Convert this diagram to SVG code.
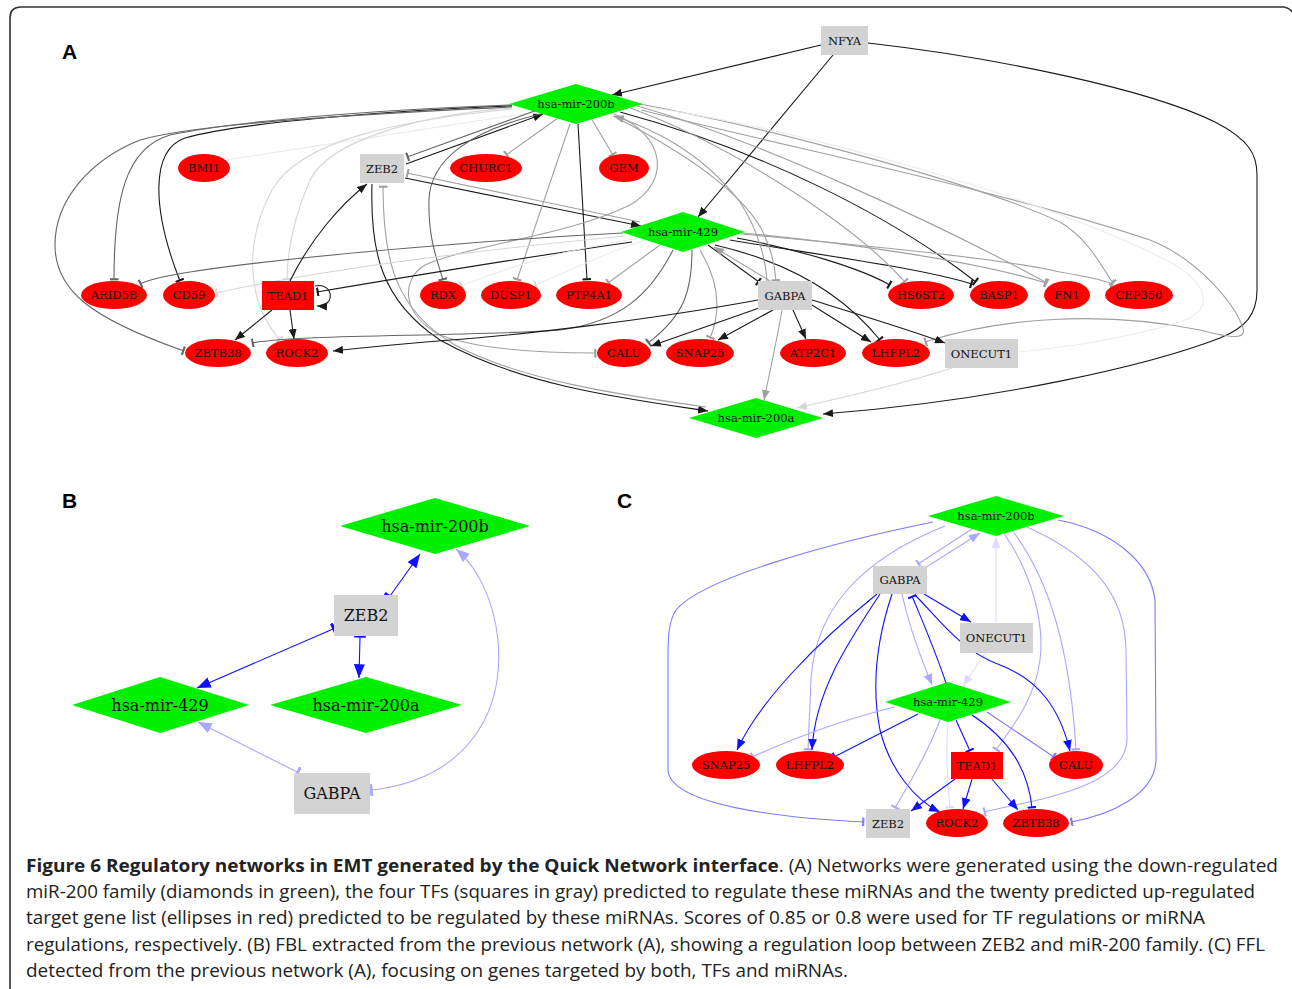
<svg xmlns="http://www.w3.org/2000/svg" width="1292" height="989" viewBox="0 0 1292 989">
<style>
.bg{fill:#fff}
.frame{fill:none;stroke:#333;stroke-width:1.6}
.lab{font-family:"Liberation Sans",Arial,sans-serif;font-weight:bold;font-size:21px;fill:#000}
.nr{fill:#ff0000}
.ng{fill:#00f000}
.nb{fill:#d3d3d3}
.t{font-family:"DejaVu Serif","Liberation Serif",serif;font-size:11.5px;fill:#111;text-anchor:middle;dominant-baseline:central}
.tb{font-family:"DejaVu Serif","Liberation Serif",serif;font-size:16px;fill:#111;text-anchor:middle;dominant-baseline:central}
.e{fill:none;stroke-width:1.1}
.k{stroke:#1a1a1a}
.d{stroke:#666}
.g{stroke:#a0a0a0}
.l{stroke:#d6d6d6}
.v{stroke:#ececec}
.B{stroke:#1010ff}
.LB{stroke:#a8a8ff}
.VB{stroke:#dcdcff}
.MB{stroke:#7a7aff}
.cap{font-family:"Open Sans","Noto Sans","Liberation Sans",sans-serif;font-size:18.5px;fill:#222}
</style>
<defs>
<marker id="aK" viewBox="0 0 10 8" refX="10" refY="4" markerWidth="10" markerHeight="8" orient="auto" markerUnits="userSpaceOnUse"><path d="M0,0 L10,4 L0,8z" fill="#1a1a1a"/></marker>
<marker id="aG" viewBox="0 0 10 8" refX="10" refY="4" markerWidth="10" markerHeight="8" orient="auto" markerUnits="userSpaceOnUse"><path d="M0,0 L10,4 L0,8z" fill="#a0a0a0"/></marker>
<marker id="aL" viewBox="0 0 10 8" refX="10" refY="4" markerWidth="10" markerHeight="8" orient="auto" markerUnits="userSpaceOnUse"><path d="M0,0 L10,4 L0,8z" fill="#d6d6d6"/></marker>
<marker id="tK" viewBox="0 0 3 10" refX="2" refY="5" markerWidth="3" markerHeight="9" orient="auto" markerUnits="userSpaceOnUse"><rect width="2.4" height="10" fill="#1a1a1a"/></marker>
<marker id="tD" viewBox="0 0 3 10" refX="2" refY="5" markerWidth="3" markerHeight="9" orient="auto" markerUnits="userSpaceOnUse"><rect width="2.4" height="10" fill="#666"/></marker>
<marker id="tG" viewBox="0 0 3 10" refX="2" refY="5" markerWidth="3" markerHeight="9" orient="auto" markerUnits="userSpaceOnUse"><rect width="2.4" height="10" fill="#a0a0a0"/></marker>
<marker id="tL" viewBox="0 0 3 10" refX="2" refY="5" markerWidth="3" markerHeight="9" orient="auto" markerUnits="userSpaceOnUse"><rect width="2.4" height="10" fill="#d6d6d6"/></marker>
<marker id="aB" viewBox="0 0 10 8" refX="10" refY="4" markerWidth="11" markerHeight="9" orient="auto" markerUnits="userSpaceOnUse"><path d="M0,0 L10,4 L0,8z" fill="#1010ff"/></marker>
<marker id="aLB" viewBox="0 0 10 8" refX="10" refY="4" markerWidth="11" markerHeight="9" orient="auto" markerUnits="userSpaceOnUse"><path d="M0,0 L10,4 L0,8z" fill="#a8a8ff"/></marker>
<marker id="aVB" viewBox="0 0 10 8" refX="10" refY="4" markerWidth="11" markerHeight="9" orient="auto" markerUnits="userSpaceOnUse"><path d="M0,0 L10,4 L0,8z" fill="#dcdcff"/></marker>
<marker id="tB" viewBox="0 0 3 10" refX="2" refY="5" markerWidth="3" markerHeight="9" orient="auto" markerUnits="userSpaceOnUse"><rect width="2.4" height="10" fill="#1010ff"/></marker>
<marker id="tLB" viewBox="0 0 3 10" refX="2" refY="5" markerWidth="3" markerHeight="9" orient="auto" markerUnits="userSpaceOnUse"><rect width="2.4" height="10" fill="#a8a8ff"/></marker>
<marker id="tMB" viewBox="0 0 3 10" refX="2" refY="5" markerWidth="3" markerHeight="9" orient="auto" markerUnits="userSpaceOnUse"><rect width="2.4" height="10" fill="#7a7aff"/></marker>
<marker id="tVB" viewBox="0 0 3 10" refX="2" refY="5" markerWidth="3" markerHeight="9" orient="auto" markerUnits="userSpaceOnUse"><rect width="2.4" height="10" fill="#dcdcff"/></marker>
<marker id="aB2" viewBox="0 0 10 8" refX="10" refY="4" markerWidth="14" markerHeight="11" orient="auto" markerUnits="userSpaceOnUse"><path d="M0,0 L10,4 L0,8z" fill="#1010ff"/></marker>
<marker id="aLB2" viewBox="0 0 10 8" refX="10" refY="4" markerWidth="14" markerHeight="11" orient="auto" markerUnits="userSpaceOnUse"><path d="M0,0 L10,4 L0,8z" fill="#a8a8ff"/></marker>
<marker id="tB2" viewBox="0 0 3 10" refX="2" refY="5" markerWidth="3.5" markerHeight="12" orient="auto" markerUnits="userSpaceOnUse"><rect width="2.6" height="10" fill="#1010ff"/></marker>
<marker id="tLB2" viewBox="0 0 3 10" refX="2" refY="5" markerWidth="3.5" markerHeight="12" orient="auto" markerUnits="userSpaceOnUse"><rect width="2.6" height="10" fill="#a8a8ff"/></marker>
</defs>
<rect class="bg" x="0" y="0" width="1292" height="989"/>
<path class="frame" d="M10,989 L10,18 Q10,7 21,7 L1284,7 Q1290,8 1293,13"/>
<text class="lab" x="62" y="59">A</text>
<text class="lab" x="62" y="508">B</text>
<text class="lab" x="617" y="508">C</text>

<g id="edgesA">
<path class="e k" d="M821,45 L612,95" marker-end="url(#aK)"/>
<path class="e k" d="M833,55 L698,217" marker-end="url(#aK)"/>
<path class="e k" d="M868,43 C1000,58 1150,90 1215,122 C1250,140 1257,155 1257,175 L1257,290 C1257,315 1245,328 1220,338 C1150,365 1000,400 823,414" marker-end="url(#aK)"/>
<path class="e v" d="M535,112 L226,160"/>
<path class="e d" d="M512,105 C420,108 250,118 170,135 C125,148 114,200 114,280" marker-end="url(#tD)"/>
<path class="e k" d="M512,106 C400,110 240,122 185,138 C150,150 152,210 180,281" marker-end="url(#tK)"/>
<path class="e d" d="M512,107 C400,112 200,122 140,140 C90,160 55,200 55,245 C55,290 90,318 184,351" marker-end="url(#tD)"/>
<path class="e k" d="M406,164 L543,114" marker-end="url(#aK)"/>
<path class="e d" d="M540,109 L407,157" marker-end="url(#tD)"/>
<path class="e k" d="M405,178 L641,226" marker-end="url(#aK)"/>
<path class="e g" d="M640,222 L407,173" marker-end="url(#tG)"/>
<path class="e k" d="M372,184 C370,250 380,300 440,340 C520,385 620,398 708,411" marker-end="url(#aK)"/>
<path class="e g" d="M706,407 C620,395 520,380 455,345 C395,310 383,260 383,186" marker-end="url(#tG)"/>
<path class="e d" d="M545,113 C470,130 430,160 429,200 C428,240 438,262 443,280" marker-end="url(#tD)"/>
<path class="e g" d="M558,118 L506,155" marker-end="url(#tG)"/>
<path class="e g" d="M591,118 L613,155" marker-end="url(#tG)"/>
<path class="e g" d="M570,124 L517,280" marker-end="url(#tG)"/>
<path class="e k" d="M578,124 L587,280" marker-end="url(#tK)"/>
<path class="e l" d="M512,108 C420,115 330,140 310,180 C295,215 287,250 287,280" marker-end="url(#tL)"/>
<path class="e l" d="M512,109 C400,120 300,140 272,190 C245,240 245,300 280,340" marker-end="url(#tL)"/>
<path class="e g" d="M614,114 C665,135 672,180 630,205 C570,235 470,245 425,265 C400,280 402,315 440,335 C480,350 550,353 596,353" marker-end="url(#tG)"/>
<path class="e k" d="M620,112 C760,150 890,215 976,282" marker-end="url(#tK)"/>
<path class="e k" d="M730,240 C820,255 920,268 972,284" marker-end="url(#tK)"/>
<path class="e g" d="M630,108 C720,140 850,220 905,282" marker-end="url(#tG)"/>
<path class="e g" d="M637,106 C760,140 950,230 1047,283" marker-end="url(#tG)"/>
<path class="e g" d="M640,104 C780,130 980,185 1060,222 C1090,240 1102,268 1113,283" marker-end="url(#tG)"/>
<path class="e g" d="M741,234 C850,244 1000,258 1060,272 C1090,277 1103,280 1113,284" marker-end="url(#tG)"/>
<path class="e g" d="M743,233 C850,243 980,262 1046,283" marker-end="url(#tG)"/>
<path class="e k" d="M737,238 C800,250 860,268 890,285" marker-end="url(#tK)"/>
<path class="e k" d="M715,245 C780,260 840,290 880,340" marker-end="url(#tK)"/>
<path class="e g" d="M641,110 C800,150 1000,190 1150,240 C1200,260 1235,305 1243,328 C1247,340 1230,338 1200,330 C1100,310 1000,318 925,342" marker-end="url(#tG)"/>
<path class="e v" d="M640,106 C800,128 1050,200 1170,262 C1210,285 1215,310 1180,322 C1120,340 1060,348 1019,352"/>
<path class="e k" d="M708,245 L759,282" marker-end="url(#tK)"/>
<path class="e g" d="M770,281 L714,247" marker-end="url(#aG)"/>
<path class="e g" d="M613,116 C680,150 740,190 762,230 C772,250 775,265 776,281" marker-end="url(#tG)"/>
<path class="e g" d="M767,281 C766,260 758,230 740,202 C700,150 650,128 614,116" marker-end="url(#aG)"/>
<path class="e d" d="M623,233 C520,238 300,255 190,272 C165,276 150,279 140,284" marker-end="url(#tD)"/>
<path class="e l" d="M625,236 C480,250 320,270 216,293" marker-end="url(#tL)"/>
<path class="e k" d="M632,242 C520,258 400,278 317,292" marker-end="url(#tK)"/>
<path class="e v" d="M640,238 C560,250 500,270 461,286" marker-end="url(#tL)"/>
<path class="e v" d="M645,240 C600,255 560,275 535,285" marker-end="url(#tL)"/>
<path class="e g" d="M660,245 L608,283" marker-end="url(#tG)"/>
<path class="e d" d="M673,250 C650,295 620,322 560,330 C460,337 300,334 252,343" marker-end="url(#tD)"/>
<path class="e d" d="M692,250 C692,290 685,315 648,343" marker-end="url(#tD)"/>
<path class="e g" d="M700,250 C718,280 722,310 710,338" marker-end="url(#tG)"/>
<path class="e k" d="M758,300 C650,320 520,335 450,340 C400,344 360,348 333,351" marker-end="url(#aK)"/>
<path class="e k" d="M762,307 L651,346" marker-end="url(#aK)"/>
<path class="e k" d="M773,310 L718,340" marker-end="url(#aK)"/>
<path class="e k" d="M793,310 L806,339" marker-end="url(#aK)"/>
<path class="e k" d="M812,305 L871,342" marker-end="url(#aK)"/>
<path class="e k" d="M812,300 C860,315 910,330 945,343" marker-end="url(#aK)"/>
<path class="e g" d="M782,310 C775,350 768,380 764,400" marker-end="url(#aG)"/>
<path class="e l" d="M952,368 C900,385 840,398 797,408" marker-end="url(#aL)"/>
<path class="e k" d="M290,281 C310,240 340,205 367,184" marker-end="url(#aK)"/>
<path class="e k" d="M315,286 C334,282 336,307 317,306" marker-end="url(#aK)"/>
<path class="e k" d="M272,310 L235,340" marker-end="url(#aK)"/>
<path class="e k" d="M290,310 L294,339" marker-end="url(#aK)"/>
</g>

<g id="A-NFYA"><rect class="nb" x="821" y="26" width="47" height="29"/><text class="t" x="844.5" y="40.5">NFYA</text></g>
<g id="A-mir200b"><polygon class="ng" points="509,104 576,84 643,104 576,124"/><text class="t" x="576" y="104">hsa-mir-200b</text></g>
<g id="A-ZEB2"><rect class="nb" x="360" y="154" width="44" height="29"/><text class="t" x="382" y="168.5">ZEB2</text></g>
<g id="A-BMI1"><ellipse class="nr" cx="204" cy="168" rx="26" ry="14"/><text class="t" x="204" y="168">BMI1</text></g>
<g id="A-CHURC1"><ellipse class="nr" cx="486" cy="168" rx="36" ry="14"/><text class="t" x="486" y="168">CHURC1</text></g>
<g id="A-GEM"><ellipse class="nr" cx="624" cy="168" rx="25" ry="14"/><text class="t" x="624" y="168">GEM</text></g>
<g id="A-mir429"><polygon class="ng" points="621,232 683,212 745,232 683,252"/><text class="t" x="683" y="232">hsa-mir-429</text></g>
<g id="A-ARID5B"><ellipse class="nr" cx="114" cy="295" rx="33" ry="14"/><text class="t" x="114" y="295">ARID5B</text></g>
<g id="A-CD59"><ellipse class="nr" cx="189" cy="295" rx="26" ry="14"/><text class="t" x="189" y="295">CD59</text></g>
<g id="A-TEAD1"><rect class="nr" x="262" y="281" width="52" height="29"/><text class="t" x="288" y="295.5">TEAD1</text></g>
<g id="A-RDX"><ellipse class="nr" cx="443" cy="295" rx="23" ry="14"/><text class="t" x="443" y="295">RDX</text></g>
<g id="A-DUSP1"><ellipse class="nr" cx="511" cy="295" rx="30" ry="14"/><text class="t" x="511" y="295">DUSP1</text></g>
<g id="A-PTP4A1"><ellipse class="nr" cx="589" cy="295" rx="33" ry="14"/><text class="t" x="589" y="295">PTP4A1</text></g>
<g id="A-GABPA"><rect class="nb" x="758" y="281" width="54" height="29"/><text class="t" x="785" y="295.5">GABPA</text></g>
<g id="A-HS6ST2"><ellipse class="nr" cx="921" cy="295" rx="33" ry="14"/><text class="t" x="921" y="295">HS6ST2</text></g>
<g id="A-BASP1"><ellipse class="nr" cx="999" cy="295" rx="29" ry="14"/><text class="t" x="999" y="295">BASP1</text></g>
<g id="A-FN1"><ellipse class="nr" cx="1067" cy="295" rx="23" ry="14"/><text class="t" x="1067" y="295">FN1</text></g>
<g id="A-CEP350"><ellipse class="nr" cx="1139" cy="295" rx="34" ry="14"/><text class="t" x="1139" y="295">CEP350</text></g>
<g id="A-ZBTB38"><ellipse class="nr" cx="218" cy="353" rx="33" ry="14"/><text class="t" x="218" y="353">ZBTB38</text></g>
<g id="A-ROCK2"><ellipse class="nr" cx="297" cy="353" rx="31" ry="14"/><text class="t" x="297" y="353">ROCK2</text></g>
<g id="A-CALU"><ellipse class="nr" cx="624" cy="353" rx="27" ry="14"/><text class="t" x="624" y="353">CALU</text></g>
<g id="A-SNAP25"><ellipse class="nr" cx="700" cy="353" rx="34" ry="14"/><text class="t" x="700" y="353">SNAP25</text></g>
<g id="A-ATP2C1"><ellipse class="nr" cx="813" cy="353" rx="33" ry="14"/><text class="t" x="813" y="353">ATP2C1</text></g>
<g id="A-LHFPL2"><ellipse class="nr" cx="896" cy="353" rx="34" ry="14"/><text class="t" x="896" y="353">LHFPL2</text></g>
<g id="A-ONECUT1"><rect class="nb" x="945" y="339" width="73" height="29"/><text class="t" x="981.5" y="353.5">ONECUT1</text></g>
<g id="A-mir200a"><polygon class="ng" points="689,418 756,398 823,418 756,438"/><text class="t" x="756" y="418">hsa-mir-200a</text></g>

<g id="edgesB">
<path class="e B" stroke-width="1.6" d="M390,596 L420,554" marker-start="url(#tB2)" marker-end="url(#aB2)"/>
<path class="e B" stroke-width="1.6" d="M333,629 L197,688" marker-start="url(#tB2)" marker-end="url(#aB2)"/>
<path class="e B" stroke-width="1.6" d="M360,637 L359,678" marker-start="url(#tB2)" marker-end="url(#aB2)"/>
<path class="e LB" stroke-width="1.6" d="M297,772 L198,722" marker-start="url(#tLB2)" marker-end="url(#aLB2)"/>
<path class="e LB" stroke-width="1.6" d="M372,790 C460,780 505,720 498,640 C493,595 475,565 456,549" marker-start="url(#tLB2)" marker-end="url(#aLB2)"/>
</g>
<g id="B-mir200b"><polygon class="ng" points="340,526 435,498 530,526 435,554"/><text class="tb" x="435" y="526">hsa-mir-200b</text></g>
<g id="B-ZEB2"><rect class="nb" x="334" y="595" width="64" height="41"/><text class="tb" x="366" y="615">ZEB2</text></g>
<g id="B-mir429"><polygon class="ng" points="72,705 160,677 249,705 160,733"/><text class="tb" x="160" y="705">hsa-mir-429</text></g>
<g id="B-mir200a"><polygon class="ng" points="270,705 366,677 462,705 366,733"/><text class="tb" x="366" y="705">hsa-mir-200a</text></g>
<g id="B-GABPA"><rect class="nb" x="294" y="773" width="76" height="41"/><text class="tb" x="332" y="793">GABPA</text></g>

<g id="edgesC">
<path class="e MB" d="M933,522 C820,545 700,580 676,610 C668,622 668,640 668,660 L668,770 C670,805 780,818 864,822" marker-end="url(#tMB)"/>
<path class="e MB" d="M1058,520 C1110,530 1150,560 1155,600 L1156,760 C1155,795 1110,815 1071,822" marker-end="url(#tMB)"/>
<path class="e LB" d="M925,568 L980,533" marker-end="url(#aLB)"/>
<path class="e LB" d="M972,529 L918,564" marker-end="url(#tLB)"/>
<path class="e LB" d="M945,526 C860,560 815,610 811,680 L808,750" marker-end="url(#tLB)"/>
<path class="e LB" d="M1003,532 C1030,570 1045,620 1040,660 C1035,700 1010,730 996,750" marker-end="url(#tLB)"/>
<path class="e LB" d="M1012,530 C1050,580 1070,650 1076,750" marker-end="url(#tLB)"/>
<path class="e LB" d="M1027,527 C1100,560 1125,600 1126,650 L1127,740 C1125,790 1030,800 984,812" marker-end="url(#tLB)"/>
<path class="e VB" d="M996,623 L996,537" marker-end="url(#aVB)"/>
<path class="e VB" d="M985,653 L963,686" marker-end="url(#aVB)"/>
<path class="e B" d="M924,594 L971,622" marker-end="url(#aB)"/>
<path class="e B" d="M877,594 C820,640 760,700 737,750" marker-end="url(#aB)"/>
<path class="e B" d="M880,594 C850,640 815,690 812,750" marker-end="url(#aB)"/>
<path class="e B" d="M892,594 C880,630 870,680 880,730 C890,770 915,800 940,812" marker-end="url(#aB)"/>
<path class="e LB" d="M902,594 C910,630 922,660 932,685" marker-end="url(#aLB)"/>
<path class="e B" d="M946,683 C935,650 922,620 912,596" marker-end="url(#tB)"/>
<path class="e B" d="M915,595 C940,620 960,650 1000,665 C1040,680 1060,710 1070,751" marker-end="url(#aB)"/>
<path class="e LB" d="M895,707 C840,720 790,740 752,757" marker-end="url(#tLB)"/>
<path class="e B" d="M918,714 L834,757" marker-end="url(#tB)"/>
<path class="e LB" d="M940,720 C925,760 905,790 895,808" marker-end="url(#tLB)"/>
<path class="e VB" d="M948,722 C945,760 948,790 950,808" marker-end="url(#tVB)"/>
<path class="e B" d="M956,720 L970,751" marker-end="url(#tB)"/>
<path class="e B" d="M972,715 C1010,740 1028,770 1032,808" marker-end="url(#tB)"/>
<path class="e MB" d="M987,712 L1054,757" marker-end="url(#tMB)"/>
<path class="e B" d="M955,779 L911,811" marker-end="url(#aB)"/>
<path class="e B" d="M972,779 L963,809" marker-end="url(#aB)"/>
<path class="e B" d="M992,779 L1018,810" marker-end="url(#aB)"/>
</g>
<g id="C-mir200b"><polygon class="ng" points="928,516 996,496 1064,516 996,536"/><text class="t" x="996" y="516">hsa-mir-200b</text></g>
<g id="C-GABPA"><rect class="nb" x="873" y="566" width="54" height="28"/><text class="t" x="900" y="580">GABPA</text></g>
<g id="C-ONECUT1"><rect class="nb" x="960" y="623" width="73" height="30"/><text class="t" x="996.5" y="638">ONECUT1</text></g>
<g id="C-mir429"><polygon class="ng" points="885,702 948,682 1011,702 948,722"/><text class="t" x="948" y="702">hsa-mir-429</text></g>
<g id="C-SNAP25"><ellipse class="nr" cx="726" cy="765" rx="34" ry="14"/><text class="t" x="726" y="765">SNAP25</text></g>
<g id="C-LHFPL2"><ellipse class="nr" cx="810" cy="765" rx="34" ry="14"/><text class="t" x="810" y="765">LHFPL2</text></g>
<g id="C-TEAD1"><rect class="nr" x="951" y="752" width="52" height="27"/><text class="t" x="977" y="765.5">TEAD1</text></g>
<g id="C-CALU"><ellipse class="nr" cx="1076" cy="765" rx="27" ry="14"/><text class="t" x="1076" y="765">CALU</text></g>
<g id="C-ZEB2"><rect class="nb" x="866" y="809" width="44" height="29"/><text class="t" x="888" y="823.5">ZEB2</text></g>
<g id="C-ROCK2"><ellipse class="nr" cx="957" cy="823" rx="31" ry="14"/><text class="t" x="957" y="823">ROCK2</text></g>
<g id="C-ZBTB38"><ellipse class="nr" cx="1036" cy="823" rx="33" ry="14"/><text class="t" x="1036" y="823">ZBTB38</text></g>

<g id="caption">
<text class="cap" x="26" y="872" textLength="1252" lengthAdjust="spacingAndGlyphs"><tspan font-weight="bold">Figure 6 Regulatory networks in EMT generated by the Quick Network interface</tspan>. (A) Networks were generated using the down-regulated</text>
<text class="cap" x="26" y="898" textLength="1229" lengthAdjust="spacingAndGlyphs">miR-200 family (diamonds in green), the four TFs (squares in gray) predicted to regulate these miRNAs and the twenty predicted up-regulated</text>
<text class="cap" x="26" y="924" textLength="1179" lengthAdjust="spacingAndGlyphs">target gene list (ellipses in red) predicted to be regulated by these miRNAs. Scores of 0.85 or 0.8 were used for TF regulations or miRNA</text>
<text class="cap" x="26" y="951" textLength="1239" lengthAdjust="spacingAndGlyphs">regulations, respectively. (B) FBL extracted from the previous network (A), showing a regulation loop between ZEB2 and miR-200 family. (C) FFL</text>
<text class="cap" x="26" y="977" textLength="822" lengthAdjust="spacingAndGlyphs">detected from the previous network (A), focusing on genes targeted by both, TFs and miRNAs.</text>
</g>
</svg>
